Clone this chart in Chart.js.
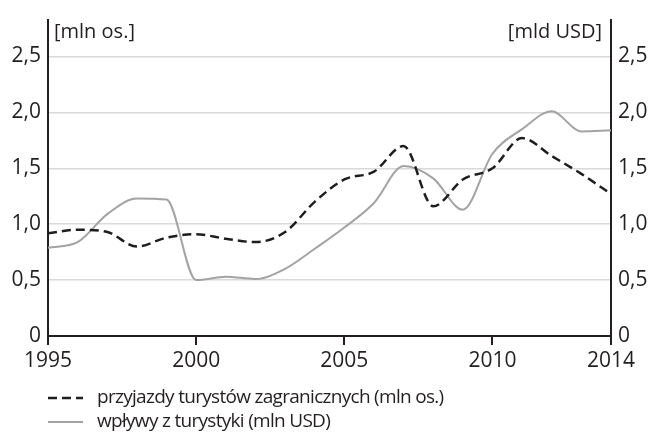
<!DOCTYPE html>
<html>
<head>
<meta charset="utf-8">
<script src="https://cdn.jsdelivr.net/npm/chart.js@4"></script>
<style>
  html, body { margin: 0; padding: 0; background: #fff; }
  #wrap { width: 650px; height: 446px; }
</style>
</head>
<body>
<div id="wrap"><canvas id="chart"></canvas></div>
<script>
const years = [1995, 1996, 1997, 1998, 1999, 2000, 2001, 2002, 2003, 2004,
               2005, 2006, 2007, 2008, 2009, 2010, 2011, 2012, 2013, 2014];
// przyjazdy (mln os.)
const arrivals = [0.92, 0.95, 0.93, 0.80, 0.88, 0.91, 0.87, 0.84, 0.93, 1.20,
                  1.40, 1.47, 1.70, 1.16, 1.40, 1.50, 1.77, 1.61, 1.45, 1.27];
// wpływy (mld USD)
const receipts = [0.79, 0.84, 1.09, 1.23, 1.22, 0.50, 0.53, 0.51, 0.60, 0.78,
                  0.97, 1.19, 1.52, 1.41, 1.13, 1.63, 1.85, 2.01, 1.83, 1.84];
const xTicks = [1995, 2000, 2005, 2010, 2014];
const yTicks = [0, 0.5, 1, 1.5, 2, 2.5];
const leftUnit = '[mln os.]';
const rightUnit = '[mld USD]';
const labelArrivals = 'przyjazdy turystów zagranicznych (mln os.)';
const labelReceipts = 'wpływy z turystyki (mln USD)';

const FONT = '"Open Sans", sans-serif';
const dark = '#231f20';

const fmt = v => v === 0 ? '0' : v.toFixed(1).replace('.', ',');
const keepTicks = s => {
  s.ticks = yTicks.map(v => ({ value: v }));
};

// unit labels inside the plot + legend at the bottom
const extras = {
  id: 'extras',
  afterDraw(chart) {
    const { ctx, chartArea: a } = chart;
    ctx.save();
    ctx.fillStyle = dark;
    ctx.font = '20px ' + FONT;
    ctx.textBaseline = 'middle';
    ctx.letterSpacing = '0px';
    ctx.textAlign = 'left';
    ctx.fillText(leftUnit, a.left + 6, a.top + 13);
    ctx.textAlign = 'right';
    ctx.fillText(rightUnit, a.right - 9, a.top + 13);

    const rows = [a.bottom + 62, a.bottom + 86];
    chart.data.datasets.forEach((ds, i) => {
      const y = rows[i];
      ctx.beginPath();
      ctx.setLineDash(ds.borderDash || []);
      ctx.strokeStyle = ds.borderColor;
      ctx.lineWidth = ds.borderWidth;
      ctx.moveTo(a.left, y);
      ctx.lineTo(a.left + 35, y);
      ctx.stroke();
      ctx.setLineDash([]);
      ctx.textAlign = 'left';
      ctx.font = '19px ' + FONT;
      ctx.letterSpacing = '-0.7px';
      ctx.fillText(ds.label, a.left + 49, y);
    });
    ctx.restore();
  }
};

new Chart(document.getElementById('chart'), {
  type: 'line',
  data: {
    datasets: [
      {
        label: labelArrivals,
        data: years.map((x, i) => ({ x, y: arrivals[i] })),
        borderColor: '#1e1e1e',
        borderWidth: 2.5,
        borderDash: [9, 5],
        pointRadius: 0,
        cubicInterpolationMode: 'monotone',
        yAxisID: 'y'
      },
      {
        label: labelReceipts,
        data: years.map((x, i) => ({ x, y: receipts[i] })),
        borderColor: '#a3a3a3',
        borderWidth: 2,
        pointRadius: 0,
        cubicInterpolationMode: 'monotone',
        yAxisID: 'y1'
      }
    ]
  },
  options: {
    responsive: true,
    maintainAspectRatio: false,
    animation: false,
    layout: { padding: { top: 13, bottom: 70, left: 0, right: 0 } },
    plugins: { legend: { display: false }, tooltip: { enabled: false } },
    scales: {
      x: {
        type: 'linear',
        min: 1995,
        max: 2014,
        afterBuildTicks: s => { s.ticks = xTicks.map(v => ({ value: v })); },
        afterFit: s => { s.height = 40; },
        grid: { drawOnChartArea: false, tickLength: 9, color: dark, lineWidth: 2 },
        border: { color: dark, width: 2 },
        ticks: {
          color: dark,
          font: { family: FONT, size: 21 },
          padding: 3,
          maxRotation: 0,
          autoSkip: false,
          callback: v => String(v)
        }
      },
      y: {
        position: 'left',
        min: 0,
        max: 2.83,
        afterBuildTicks: keepTicks,
        afterFit: s => { s.width = 48; },
        grid: { color: '#d9d9d9', lineWidth: 1.5, drawTicks: false },
        border: { color: dark, width: 2 },
        ticks: {
          color: dark,
          font: { family: FONT, size: 21 },
          padding: 7,
          callback: fmt
        }
      },
      y1: {
        position: 'right',
        min: 0,
        max: 2.83,
        afterBuildTicks: keepTicks,
        afterFit: s => { s.width = 39; },
        grid: { display: false, drawTicks: false },
        border: { color: dark, width: 2 },
        ticks: {
          color: dark,
          font: { family: FONT, size: 21 },
          padding: 7,
          callback: fmt
        }
      }
    }
  },
  plugins: [extras]
});
</script>
</body>
</html>
